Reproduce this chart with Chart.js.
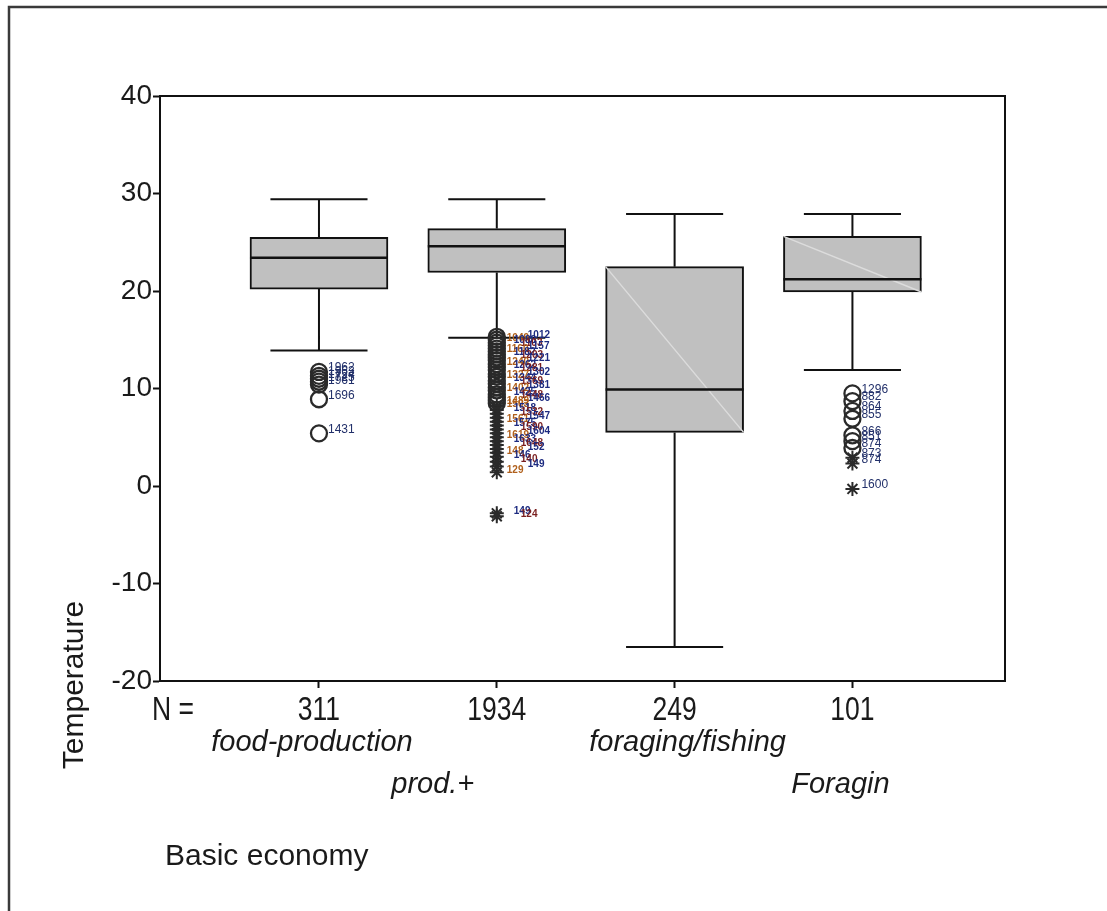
<!DOCTYPE html>
<html>
<head>
<meta charset="utf-8">
<script src="https://cdn.jsdelivr.net/npm/chart.js@4/dist/chart.umd.min.js"></script>
<style>
html, body { margin: 0; padding: 0; background: #fff; }
#wrap { width: 1107px; height: 911px; }
</style>
</head>
<body>
<div id="wrap"><canvas id="boxChart" width="1107" height="911"></canvas></div>
<script>
// Temperature by basic economy - SPSS style box plot

const categories = ['food-production', 'prod.+', 'foraging/fishing', 'Foragin'];
const counts = ['311', '1934', '249', '101'];
const whiskerHigh = [29.4, 29.4, 27.9, 27.9];
const q3 = [25.5, 26.4, 22.5, 25.6];
const medians = [23.4, 24.6, 9.9, 21.2];
const q1 = [20.2, 21.9, 5.5, 19.9];
const whiskerLow = [13.9, 15.2, -16.5, 11.9];
const yTicks = [-20, -10, 0, 10, 20, 30, 40];

// outliers (circles), one list per group, with their case numbers
const outliers = [
  [11.7, 11.3, 11.0, 10.7, 10.4, 8.9, 5.4],
  [15.3, 15.0, 14.7, 14.4, 14.1, 13.8, 13.5, 13.2, 12.9, 12.5, 12.2, 11.9, 11.5, 11.2, 10.8, 10.5, 10.1, 9.8, 9.4, 9.1, 8.8, 8.5],
  [],
  [9.5, 8.7, 7.7, 6.9, 5.2, 4.6, 3.9]
];
const outlierIds = [
  ['1962', '1963', '1724', '1725', '1961', '1696', '1431'],
  ['1012', '1049', '1088', '1103', '1157', '1160', '1182', '1203', '1221', '1240', '1262', '1281', '1302', '1327', '1344', '1369', '1381', '1402', '1425', '1448', '1466', '1489'],
  [],
  ['1296', '882', '864', '855', '866', '851', '874']
];
// extremes (stars)
const extremes = [
  [],
  [8.2, 7.8, 7.4, 7.0, 6.6, 6.2, 5.8, 5.4, 5.0, 4.6, 4.2, 3.8, 3.4, 3.0, 2.5, 2.0, 1.4, -2.8, -3.1],
  [],
  [2.9, 2.3, -0.3]
];
const extremeIds = [
  [],
  ['1503', '1518', '1532', '1547', '1561', '1575', '1590', '1604', '1619', '1633', '1648', '152', '148', '146', '140', '149', '129', '149', '124'],
  [],
  ['873', '874', '1600']
];

const xs = categories.map((_, i) => i + 1);
const BOX_HALF = 0.388;
const CAP_HALF = 0.273;

// turn a list of [x1, y1, x2, y2] into line points separated by gaps
function segs(list) {
  const pts = [];
  list.forEach(s => {
    pts.push({ x: s[0], y: s[1] }, { x: s[2], y: s[3] }, { x: s[2], y: null });
  });
  return pts;
}

const whiskerSegs = [];
xs.forEach((x, i) => {
  whiskerSegs.push([x, q3[i], x, whiskerHigh[i]]);
  whiskerSegs.push([x, q1[i], x, whiskerLow[i]]);
  whiskerSegs.push([x - CAP_HALF, whiskerHigh[i], x + CAP_HALF, whiskerHigh[i]]);
  whiskerSegs.push([x - CAP_HALF, whiskerLow[i], x + CAP_HALF, whiskerLow[i]]);
});
const medianSegs = xs.map((x, i) => [x - BOX_HALF, medians[i], x + BOX_HALF, medians[i]]);
// faint diagonal render artefacts seen in the last two boxes
const diagSegs = [2, 3].map(i => [xs[i] - BOX_HALF, q3[i], xs[i] + BOX_HALF, q1[i]]);

function points(groups, ids) {
  const pts = [];
  groups.forEach((g, i) => g.forEach((v, j) => pts.push({ x: xs[i], y: v, id: ids[i][j] })));
  return pts;
}

const textColor = '#1a1a1a';

const frame = {
  id: 'frame',
  beforeDraw(chart) {
    const ctx = chart.ctx;
    ctx.save();
    ctx.fillStyle = '#fff';
    ctx.fillRect(0, 0, chart.width, chart.height);
    ctx.strokeStyle = '#3a3a3a';
    ctx.lineWidth = 2.5;
    ctx.strokeRect(9, 7, chart.width + 20, chart.height + 20);
    ctx.restore();
  },
  afterDatasetsDraw(chart) {
    const ctx = chart.ctx;
    const cols = ['#b0601c', '#1d2b80', '#7a1f1f', '#1d2b80'];
    ctx.save();
    ctx.textAlign = 'left';
    ctx.textBaseline = 'middle';
    [3, 4].forEach(di => {
      const meta = chart.getDatasetMeta(di);
      const data = chart.data.datasets[di].data;
      meta.data.forEach((el, j) => {
        const d = data[j];
        if (d.x === 2) {
          // crowded group: labels pile up in narrow coloured columns
          const col = j % 4;
          ctx.font = 'bold 10px "Liberation Sans"';
          ctx.fillStyle = cols[col];
          ctx.fillText(d.id, el.x + 10 + col * 7, el.y - 2);
        } else {
          ctx.font = '12px "Liberation Sans"';
          ctx.fillStyle = '#22306a';
          ctx.fillText(d.id, el.x + 9, el.y - 4);
        }
      });
    });
    ctx.restore();
  },
  afterDraw(chart) {
    const { ctx, chartArea: a, scales: { x } } = chart;
    ctx.save();
    ctx.strokeStyle = '#111';
    ctx.lineWidth = 2;
    ctx.strokeRect(a.left, a.top, a.right - a.left, a.bottom - a.top);

    ctx.fillStyle = textColor;
    ctx.textAlign = 'center';
    ctx.textBaseline = 'middle';
    const narrow = (txt, cx, cy) => {
      ctx.save();
      ctx.translate(cx, cy);
      ctx.scale(0.78, 1);
      ctx.font = '34px "Liberation Sans"';
      ctx.fillText(txt, 0, 0);
      ctx.restore();
    };
    narrow('N =', 173, 711);
    counts.forEach((n, i) => narrow(n, x.getPixelForValue(xs[i]), 711));

    // category names, staggered on two rows as in the SPSS output
    const rowY = [743, 785, 743, 785];
    const shift = [-7, -64, 13, -12];
    ctx.font = 'italic 29px "Liberation Sans"';
    categories.forEach((c, i) => {
      ctx.fillText(c, x.getPixelForValue(xs[i]) + shift[i], rowY[i]);
    });

    ctx.font = '30px "Liberation Sans"';
    ctx.textAlign = 'left';
    ctx.fillText('Basic economy', 165, 857);
    ctx.save();
    ctx.translate(75, 685);
    ctx.rotate(-Math.PI / 2);
    ctx.textAlign = 'center';
    ctx.fillText('Temperature', 0, 0);
    ctx.restore();
    ctx.restore();
  }
};

new Chart(document.getElementById('boxChart'), {
  type: 'bar',
  data: {
    datasets: [{
      type: 'line',
      label: 'median',
      data: segs(medianSegs),
      borderColor: '#111',
      borderWidth: 2.5,
      pointRadius: 0,
      spanGaps: false,
      order: 1
    }, {
      type: 'line',
      label: 'whiskers',
      data: segs(whiskerSegs),
      borderColor: '#111',
      borderWidth: 2,
      pointRadius: 0,
      spanGaps: false,
      order: 2
    }, {
      type: 'line',
      label: 'artefact',
      data: segs(diagSegs),
      borderColor: '#dcdcdc',
      borderWidth: 1.5,
      pointRadius: 0,
      spanGaps: false,
      order: 2
    }, {
      type: 'scatter',
      label: 'outliers',
      data: points(outliers, outlierIds),
      pointStyle: 'circle',
      pointRadius: 8,
      backgroundColor: 'rgba(255,255,255,0)',
      borderColor: '#2a2a2a',
      borderWidth: 2.3,
      order: 0
    }, {
      type: 'scatter',
      label: 'extremes',
      data: points(extremes, extremeIds),
      pointStyle: 'star',
      pointRadius: 7,
      borderColor: '#2a2a2a',
      borderWidth: 2,
      order: 0
    }, {
      type: 'bar',
      label: 'box',
      data: xs.map((x, i) => ({ x: x, y: [q1[i], q3[i]] })),
      backgroundColor: '#c0c0c0',
      borderColor: '#111',
      borderWidth: 2,
      borderSkipped: false,
      barThickness: 138,
      order: 3
    }]
  },
  options: {
    responsive: false,
    animation: false,
    layout: { padding: { top: 96, right: 102, left: 0, bottom: 0 } },
    plugins: {
      legend: { display: false },
      tooltip: { enabled: false }
    },
    scales: {
      x: {
        type: 'linear',
        min: 0.106,
        max: 4.858,
        offset: false,
        afterBuildTicks: s => { s.ticks = xs.map(v => ({ value: v })); },
        afterFit: s => { s.height = 230; },
        grid: { drawOnChartArea: false, drawTicks: true, tickLength: 7, tickColor: '#111', tickWidth: 2, offset: false },
        border: { display: true, color: '#111', width: 2 },
        ticks: { display: false }
      },
      y: {
        min: -20,
        max: 40,
        afterBuildTicks: s => { s.ticks = yTicks.map(v => ({ value: v })); },
        afterFit: s => { s.width = 160; },
        grid: { drawOnChartArea: false, drawTicks: true, tickLength: 7, tickColor: '#111', tickWidth: 2 },
        border: { display: true, color: '#111', width: 2 },
        ticks: {
          color: textColor,
          padding: 1,
          font: { family: 'Liberation Sans', size: 28 }
        }
      }
    }
  },
  plugins: [frame]
});
</script>
</body>
</html>
